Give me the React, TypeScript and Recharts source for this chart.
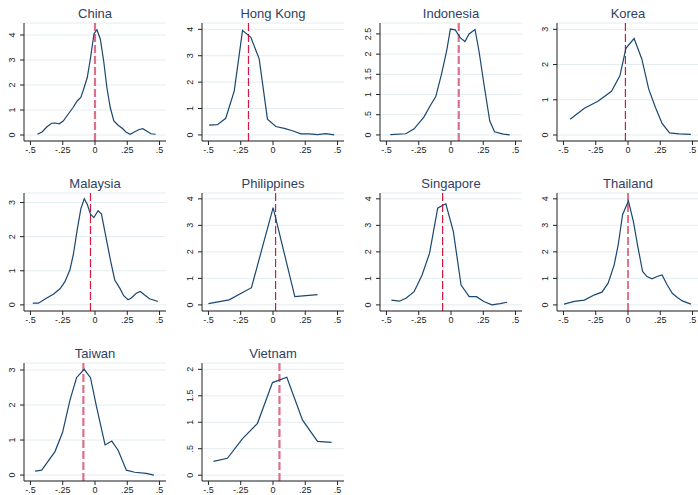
import React from 'react';
import { LineChart, Line, XAxis, YAxis, CartesianGrid, ReferenceLine } from 'recharts';

const COUNTRIES = [
  'China', 'Hong Kong', 'Indonesia', 'Korea',
  'Malaysia', 'Philippines', 'Singapore', 'Thailand',
  'Taiwan', 'Vietnam',
];

const china: [number, number][] = [
  [-0.446, 0.03], [-0.41, 0.12], [-0.374, 0.32], [-0.336, 0.47], [-0.31, 0.48],
  [-0.277, 0.45], [-0.246, 0.56], [-0.208, 0.83], [-0.17, 1.1], [-0.138, 1.36],
  [-0.11, 1.5], [-0.092, 1.77], [-0.06, 2.3], [-0.036, 3.04], [-0.008, 4.04],
  [0.015, 4.21], [0.041, 3.84], [0.067, 2.97], [0.092, 1.9], [0.118, 1.1],
  [0.146, 0.56], [0.177, 0.4], [0.215, 0.25], [0.24, 0.12], [0.272, 0.03],
  [0.305, 0.12], [0.338, 0.21], [0.37, 0.25], [0.4, 0.16], [0.433, 0.05], [0.47, 0.03],
];

const hongKong: [number, number][] = [
  [-0.495, 0.37], [-0.43, 0.39], [-0.366, 0.63], [-0.3, 1.67], [-0.236, 3.96],
  [-0.172, 3.7], [-0.107, 2.88], [-0.043, 0.6], [0.022, 0.32], [0.087, 0.25],
  [0.151, 0.16], [0.216, 0.04], [0.28, 0.04], [0.345, 0.01], [0.41, 0.05], [0.474, 0.0],
];

const indonesia: [number, number][] = [
  [-0.47, 0.01], [-0.35, 0.03], [-0.286, 0.15], [-0.21, 0.44], [-0.16, 0.73],
  [-0.118, 0.95], [-0.073, 1.51], [-0.033, 2.09], [-0.005, 2.62], [0.033, 2.6],
  [0.073, 2.4], [0.108, 2.31], [0.14, 2.5], [0.186, 2.61], [0.216, 2.09],
  [0.259, 1.18], [0.3, 0.35], [0.337, 0.08], [0.405, 0.02], [0.455, 0.0],
];

const korea: [number, number][] = [
  [-0.448, 0.45], [-0.338, 0.76], [-0.233, 0.96], [-0.128, 1.24], [-0.063, 1.68],
  [-0.016, 2.46], [0.047, 2.74], [0.107, 2.16], [0.16, 1.31], [0.212, 0.79],
  [0.264, 0.33], [0.322, 0.06], [0.395, 0.03], [0.487, 0.02],
];

const malaysia: [number, number][] = [
  [-0.482, 0.05], [-0.438, 0.05], [-0.374, 0.2], [-0.323, 0.31], [-0.271, 0.47],
  [-0.233, 0.68], [-0.194, 1.03], [-0.168, 1.47], [-0.138, 2.2], [-0.109, 2.83],
  [-0.083, 3.11], [-0.06, 2.95], [-0.035, 2.66], [-0.009, 2.56], [0.024, 2.76],
  [0.05, 2.66], [0.084, 2.0], [0.122, 1.27], [0.153, 0.73], [0.192, 0.49],
  [0.222, 0.27], [0.256, 0.15], [0.281, 0.2], [0.32, 0.34], [0.351, 0.39],
  [0.384, 0.29], [0.423, 0.18], [0.487, 0.1],
];

const philippines: [number, number][] = [
  [-0.5, 0.05], [-0.34, 0.19], [-0.167, 0.65], [0.001, 3.67], [0.169, 0.31], [0.345, 0.39],
];

const singapore: [number, number][] = [
  [-0.462, 0.18], [-0.4, 0.14], [-0.349, 0.25], [-0.286, 0.5], [-0.224, 1.13],
  [-0.166, 1.95], [-0.103, 3.65], [-0.06, 3.77], [-0.04, 3.81], [0.018, 2.77],
  [0.078, 0.75], [0.141, 0.31], [0.198, 0.31], [0.254, 0.13], [0.317, 0.0],
  [0.38, 0.05], [0.435, 0.1],
];

const thailand: [number, number][] = [
  [-0.495, 0.03], [-0.416, 0.13], [-0.338, 0.18], [-0.259, 0.38], [-0.202, 0.48],
  [-0.154, 0.82], [-0.107, 1.51], [-0.076, 2.26], [-0.042, 3.4], [0.003, 3.92],
  [0.042, 3.14], [0.076, 2.2], [0.113, 1.26], [0.147, 1.07], [0.186, 0.98],
  [0.225, 1.07], [0.264, 1.13], [0.304, 0.75], [0.343, 0.44], [0.382, 0.28],
  [0.421, 0.15], [0.487, 0.03],
];

const taiwan: [number, number][] = [
  [-0.464, 0.11], [-0.413, 0.14], [-0.31, 0.67], [-0.251, 1.22], [-0.194, 2.14],
  [-0.143, 2.78], [-0.084, 3.02], [-0.035, 2.78], [0.012, 1.95], [0.078, 0.86],
  [0.13, 0.97], [0.179, 0.71], [0.243, 0.14], [0.307, 0.08], [0.397, 0.05], [0.456, 0.0],
];

const vietnam: [number, number][] = [
  [-0.461, 0.26], [-0.353, 0.32], [-0.236, 0.69], [-0.12, 0.98], [-0.004, 1.75],
  [0.107, 1.85], [0.229, 1.04], [0.345, 0.64], [0.454, 0.62],
];

const SERIES = [china, hongKong, indonesia, korea, malaysia, philippines, singapore, thailand, taiwan, vietnam];

// position of the dashed vertical reference line in each panel
const REF_X = [0.0, -0.19, 0.06, -0.02, -0.035, 0.02, -0.065, 0.0, -0.09, 0.05];

const Y_TICKS = [
  [0, 1, 2, 3, 4],
  [0, 1, 2, 3, 4],
  [0, 0.5, 1, 1.5, 2, 2.5],
  [0, 1, 2, 3],
  [0, 1, 2, 3],
  [0, 1, 2, 3, 4],
  [0, 1, 2, 3, 4],
  [0, 1, 2, 3, 4],
  [0, 1, 2, 3],
  [0, 0.5, 1, 1.5, 2],
];

const Y_DOMAINS: [number, number][] = [
  [-0.24, 4.48], [-0.23, 4.24], [-0.15, 2.77], [-0.17, 3.18],
  [-0.18, 3.28], [-0.23, 4.22], [-0.23, 4.22], [-0.23, 4.22],
  [-0.17, 3.2], [-0.11, 2.12],
];

const X_TICKS = [-0.5, -0.25, 0, 0.25, 0.5];

const COL_LEFT = [0, 178, 356, 533];
const ROW_TOP = [0, 170, 340];

const WIDE_REF = [true, false, true, false, false, false, false, false, true, true];

const FONT = '"Liberation Sans", Arial, sans-serif';
const AXIS = '#222';

// stata style labels: .5, -.25
const fmt = (v: number): string => {
  if (v === 0) return '0';
  return String(v).replace(/^(-?)0\./, '$1.');
};

const YTick = (props: any) => {
  const { x, y, payload } = props;
  return (
    <text
      transform={`translate(${x - 3},${y}) rotate(-90)`}
      textAnchor="middle"
      fontSize={9}
      fontFamily={FONT}
      fill={AXIS}
    >
      {fmt(payload.value)}
    </text>
  );
};

const Panel = ({ i }: { i: number }) => {
  const data = SERIES[i].map(([x, y]) => ({ x, y }));
  const left = COL_LEFT[i % 4];
  const top = ROW_TOP[Math.floor(i / 4)];
  const wide = WIDE_REF[i];
  return (
    <div style={{ position: 'absolute', left, top, width: 174, height: 165 }}>
      <div
        style={{
          position: 'absolute',
          left: 24,
          width: 142,
          top: 6,
          textAlign: 'center',
          fontSize: 13,
          lineHeight: '15px',
          color: '#2e3f66',
          fontFamily: FONT,
        }}
      >
        {COUNTRIES[i]}
      </div>
      <LineChart width={174} height={165} data={data} margin={{ top: 23, right: 8, bottom: 4, left: 0 }}>
        <CartesianGrid vertical={false} stroke="#e3ecef" />
        <XAxis
          dataKey="x"
          type="number"
          domain={[-0.55, 0.55]}
          ticks={X_TICKS}
          interval={0}
          allowDataOverflow
          tickFormatter={fmt}
          tick={{ fontSize: 9, fill: AXIS, fontFamily: FONT }}
          tickSize={4}
          tickMargin={2}
          height={20}
          stroke={AXIS}
        />
        <YAxis
          type="number"
          domain={Y_DOMAINS[i]}
          ticks={Y_TICKS[i]}
          interval={0}
          allowDataOverflow
          width={24}
          tickSize={4}
          tick={<YTick />}
          stroke={AXIS}
        />
        <ReferenceLine
          x={REF_X[i]}
          stroke={wide ? '#de6f8c' : '#d8163f'}
          strokeWidth={wide ? 2.2 : 1.2}
          strokeDasharray="8 3"
        />
        <Line
          type="linear"
          dataKey="y"
          stroke="#1a476f"
          strokeWidth={1.2}
          dot={false}
          isAnimationActive={false}
        />
      </LineChart>
    </div>
  );
};

export default function App() {
  return (
    <div
      style={{
        position: 'absolute',
        left: 0,
        top: 0,
        width: 698,
        height: 495,
        background: '#fff',
        overflow: 'hidden',
      }}
    >
      {SERIES.map((_, i) => (
        <Panel key={COUNTRIES[i]} i={i} />
      ))}
    </div>
  );
}
